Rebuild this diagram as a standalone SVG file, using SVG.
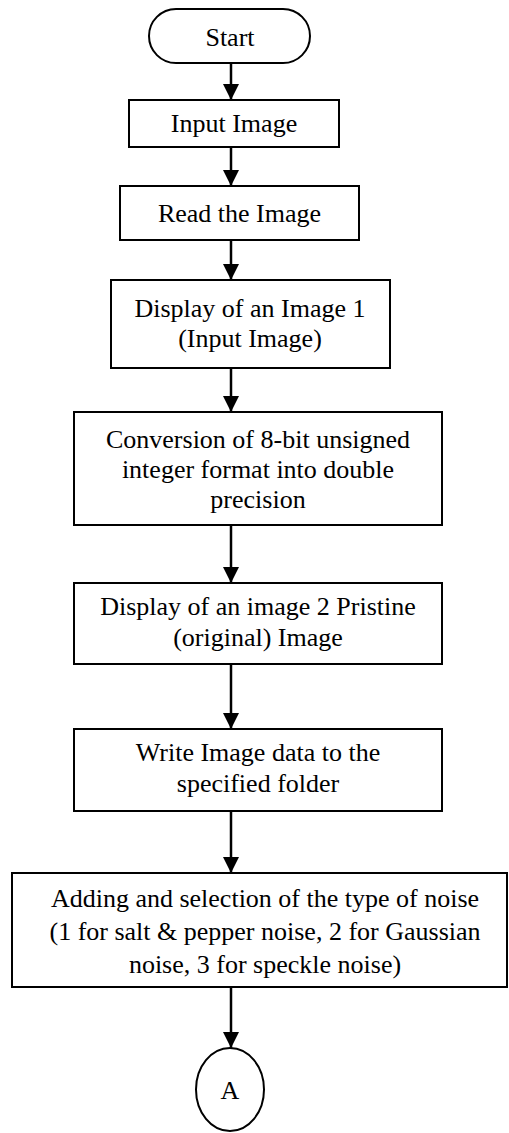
<svg xmlns="http://www.w3.org/2000/svg" width="509" height="1133" viewBox="0 0 509 1133">
<style>
.box{fill:#fff;stroke:#000;stroke-width:2}
.t{font-family:"Liberation Serif","Times New Roman",serif;font-size:26px;fill:#000;text-anchor:middle}
.c{stroke:#000;stroke-width:2.5;fill:none}
</style>
<defs>
<marker id="ah" markerUnits="userSpaceOnUse" markerWidth="16" markerHeight="16" viewBox="0 0 16 16" refX="16" refY="8" orient="auto">
<path d="M0,0 L16,8 L0,16 Z" fill="#000"/>
</marker>
</defs>
<rect width="509" height="1133" fill="#fff"/>
<g id="connectors">
<line class="c" x1="231" y1="63" x2="231" y2="100" marker-end="url(#ah)"/>
<line class="c" x1="231" y1="147" x2="231" y2="186" marker-end="url(#ah)"/>
<line class="c" x1="231" y1="240" x2="231" y2="280" marker-end="url(#ah)"/>
<line class="c" x1="231" y1="368" x2="231" y2="412" marker-end="url(#ah)"/>
<line class="c" x1="231" y1="525" x2="231" y2="583" marker-end="url(#ah)"/>
<line class="c" x1="231" y1="664" x2="231" y2="729" marker-end="url(#ah)"/>
<line class="c" x1="231" y1="811" x2="231" y2="873" marker-end="url(#ah)"/>
<line class="c" x1="231" y1="987" x2="231" y2="1048" marker-end="url(#ah)"/>
</g>
<g id="start">
<rect class="box" x="149" y="9" width="161" height="54" rx="27"/>
<text class="t" x="230" y="46">Start</text>
</g>
<g id="input">
<rect class="box" x="129" y="100" width="210" height="47"/>
<text class="t" x="234" y="132">Input Image</text>
</g>
<g id="read">
<rect class="box" x="120" y="186" width="239" height="54"/>
<text class="t" x="239.5" y="222">Read the Image</text>
</g>
<g id="display1">
<rect class="box" x="111" y="280" width="279" height="88"/>
<text class="t" x="250" y="317">Display of an Image 1</text>
<text class="t" x="250" y="347">(Input Image)</text>
</g>
<g id="conversion">
<rect class="box" x="74" y="412" width="368" height="113"/>
<text class="t" x="258" y="448">Conversion of 8-bit unsigned</text>
<text class="t" x="258" y="478">integer format into double</text>
<text class="t" x="258" y="508">precision</text>
</g>
<g id="display2">
<rect class="box" x="74" y="583" width="368" height="81"/>
<text class="t" x="258" y="615">Display of an image 2 Pristine</text>
<text class="t" x="258" y="646">(original) Image</text>
</g>
<g id="write">
<rect class="box" x="74" y="729" width="368" height="82"/>
<text class="t" x="258" y="761">Write Image data to the</text>
<text class="t" x="258" y="792">specified folder</text>
</g>
<g id="noise">
<rect class="box" x="12" y="873" width="495" height="114"/>
<text class="t" x="265" y="907">Adding and selection of the type of noise</text>
<text class="t" x="265" y="940">(1 for salt &amp; pepper noise, 2 for Gaussian</text>
<text class="t" x="265" y="973">noise, 3 for speckle noise)</text>
</g>
<g id="connectorA">
<ellipse class="box" cx="230" cy="1089.5" rx="34" ry="41.5"/>
<text class="t" x="230" y="1099">A</text>
</g>
</svg>
